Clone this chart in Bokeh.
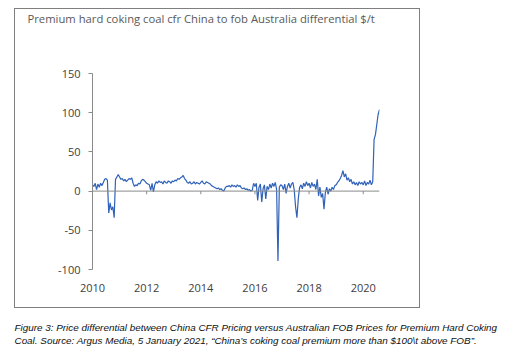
from bokeh.plotting import figure
from bokeh.layouts import column
from bokeh.models import Range1d, FixedTicker, Label, Span, ColumnDataSource
from bokeh.embed import file_html
from bokeh.resources import INLINE

title_text = "Premium hard coking coal cfr China to fob Australia differential $/t"
caption_1 = "Figure 3: Price differential between China CFR Pricing versus Australian FOB Prices for Premium Hard Coking"
caption_2 = "Coal.  Source: Argus Media, 5 January 2021, \u201cChina\u2019s coking coal premium more than $100\\t above FOB\u201d."

y_ticks = [-100, -50, 0, 50, 100, 150]
y_tick_labels = ["-100", "-50", "0", "50", "100", "150"]
x_ticks = [2010, 2012, 2014, 2016, 2018, 2020]
x_tick_labels = ["2010", "2012", "2014", "2016", "2018", "2020"]

start_year = 2010.0
step = 0.05  # sampling step in years

v2010 = [8, 6, 10, 2, 9, 5, 10, 7, 11, 15, 16, 14, -28, -15, -24, -20, -34, 15, 18, 21]
v2011 = [18, 15, 16, 13, 15, 12, 14, 16, 15, 17, 10, 6, 8, 7, 10, 9, 13, 15, 14, 12]
v2012 = [10, 9, 8, 1, 10, -1, 8, 12, 10, 13, 11, 12, 9, 13, 11, 10, 13, 12, 10, 13]
v2013 = [12, 14, 13, 16, 15, 17, 18, 20, 16, 14, 11, 10, 12, 9, 10, 12, 9, 11, 10, 9]
v2014 = [11, 13, 10, 9, 12, 11, 10, 9, 7, 6, 5, 4, 3, 4, 2, 3, 1, 0, 4, 6]
v2015 = [6, 7, 5, 8, 6, 7, 5, 8, 6, 7, 4, 3, 4, 2, 3, 1, 2, 0, 1, 10]
v2016 = [6, 10, -12, 5, 9, -14, 3, 8, -10, 6, 2, 9, 4, 10, 6, 11, 2, -89, 5, 8]
v2017 = [7, 2, 9, -3, 6, 10, 4, 9, 11, 2, -20, -34, -10, 5, 8, 3, 10, 6, 12, 7]
v2018 = [10, 4, 11, 6, 9, 2, 15, -6, 5, -8, -3, -23, -2, 5, -4, 3, 0, 5, 2, 7]
v2019 = [8, 11, 13, 16, 20, 26, 18, 22, 14, 17, 12, 15, 9, 12, 8, 11, 7, 12, 9, 11]
v2020 = [8, 13, 7, 11, 9, 14, 8, 12, 66, 72, 85, 98, 104]

values = v2010 + v2011 + v2012 + v2013 + v2014 + v2015 + v2016 + v2017 + v2018 + v2019 + v2020
dates = [start_year + i * step for i in range(len(values))]

FONT = "Open Sans"
GREY = "#8a8a8a"


def no_frame_align(f):
    try:
        f.frame_align = False
    except Exception:
        pass


def blank_fig(w, h):
    f = figure(width=w, height=h, output_backend="svg", toolbar_location=None,
               x_range=Range1d(0, w), y_range=Range1d(h, 0),
               min_border=0, min_border_left=0, min_border_right=0,
               min_border_top=0, min_border_bottom=0)
    f.axis.visible = False
    f.grid.visible = False
    f.outline_line_alpha = 0
    f.background_fill_color = "white"
    f.border_fill_color = "white"
    no_frame_align(f)
    return f


# ---- title strip inside the box
tf = blank_fig(404, 20)
tf.add_layout(Label(x=12, y=9, text=title_text, text_font=FONT, text_font_size="11.25px",
                    text_color="#595959", text_baseline="middle", text_align="left"))

# ---- main chart
p = figure(width=404, height=278, output_backend="svg", toolbar_location=None,
           x_range=Range1d(dates[0], dates[-1]), y_range=Range1d(y_ticks[0], y_ticks[-1]),
           min_border_left=77, min_border_right=40, min_border_top=44, min_border_bottom=38)
no_frame_align(p)
p.background_fill_color = "white"
p.border_fill_color = "white"
p.outline_line_alpha = 0
p.xgrid.visible = False
p.ygrid.visible = False

ya = p.yaxis[0]
ya.ticker = FixedTicker(ticks=y_ticks)
ya.major_label_overrides = {t: l for t, l in zip(y_ticks, y_tick_labels)}
ya.axis_line_color = GREY
ya.major_tick_line_color = GREY
ya.major_tick_out = 4
ya.major_tick_in = 0
ya.minor_tick_line_alpha = 0
ya.major_label_text_font = FONT
ya.major_label_text_font_size = "11px"
ya.major_label_text_color = "#404040"
ya.major_label_standoff = 8

xa = p.xaxis[0]
xa.ticker = FixedTicker(ticks=x_ticks)
xa.major_label_overrides = {t: l for t, l in zip(x_ticks, x_tick_labels)}
xa.axis_line_alpha = 0
xa.major_tick_line_alpha = 0
xa.minor_tick_line_alpha = 0
xa.major_label_text_font = FONT
xa.major_label_text_font_size = "11px"
xa.major_label_text_color = "#404040"
xa.major_label_standoff = 8

p.add_layout(Span(location=0, dimension="width", line_color=GREY, line_width=1))
p.segment(x0=x_ticks, y0=[0] * len(x_ticks), x1=x_ticks, y1=[-4] * len(x_ticks),
          line_color=GREY, line_width=1)

src = ColumnDataSource(dict(x=dates, y=values))
p.line("x", "y", source=src, line_color="#2f62b8", line_width=1.2)

box = column(tf, p, margin=(8, 0, 0, 14), spacing=0,
             styles={"border": "1px solid #7f7f7f", "background-color": "white"})

# ---- caption below the box
cf = blank_fig(505, 41)
for i, t in enumerate([caption_1, caption_2]):
    cf.add_layout(Label(x=14, y=19 + 13.3 * i, text=t,
                        text_font="Liberation Sans", text_font_style="italic",
                        text_font_size="9.9px", text_color="#111111",
                        text_baseline="middle", text_align="left"))

layout = column(box, cf, spacing=0, margin=0, styles={"background-color": "white"})

open("out.html", "w").write(file_html(layout, INLINE))
